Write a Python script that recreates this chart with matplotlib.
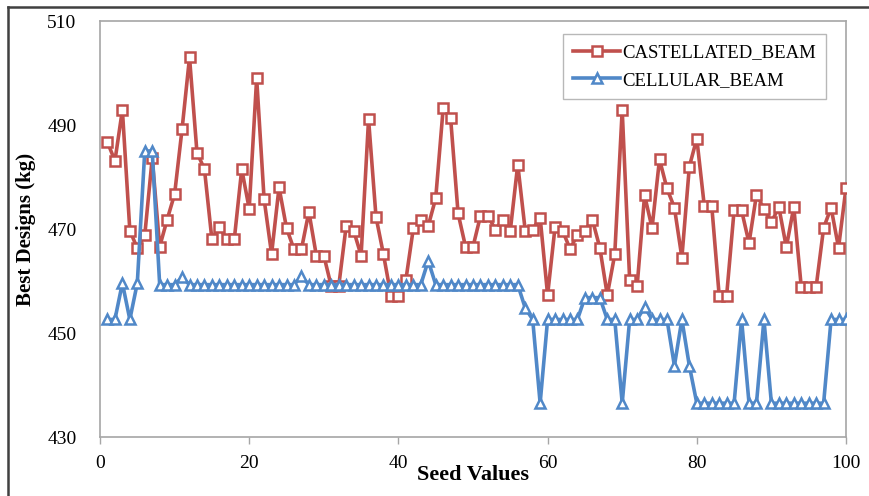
import numpy as np
import matplotlib.pyplot as plt
from matplotlib.lines import Line2D

# seed values 1..100
seeds = list(range(1, 101))

castellated = [
    486.7, 483.1, 492.9, 469.7, 466.3, 468.8, 483.6, 466.6, 471.8, 476.7,
    489.2, 503.0, 484.7, 481.5, 468.0, 470.4, 468.0, 468.0, 481.5, 473.9,
    499.0, 475.7, 465.2, 478.0, 470.2, 466.1, 466.1, 473.3, 464.9, 464.9,
    459.0, 459.0, 470.6, 469.7, 464.9, 491.1, 472.3, 465.1, 457.2, 457.2,
    460.2, 470.1, 471.7, 470.6, 475.9, 493.2, 491.3, 473.0, 466.6, 466.6,
    472.5, 472.5, 469.9, 471.8, 469.7, 482.4, 469.7, 469.9, 472.2, 457.3,
    470.4, 469.7, 466.2, 468.8, 469.7, 471.8, 466.4, 457.3, 465.1, 492.9,
    460.2, 459.0, 476.5, 470.2, 483.4, 477.8, 474.1, 464.5, 482.0, 487.4,
    474.5, 474.5, 457.2, 457.2, 473.6, 473.6, 467.3, 476.6, 473.9, 471.3,
    474.2, 466.5, 474.2, 458.9, 458.9, 458.9, 470.2, 474.1, 466.4, 477.9,
]

cellular = [
    452.6, 452.6, 459.6, 452.6, 459.6, 485.0, 485.0, 459.3, 459.3, 459.3,
    460.7, 459.3, 459.3, 459.3, 459.3, 459.3, 459.3, 459.3, 459.3, 459.3,
    459.3, 459.3, 459.3, 459.3, 459.3, 459.3, 460.9, 459.3, 459.3, 459.3,
    459.3, 459.3, 459.3, 459.3, 459.3, 459.3, 459.3, 459.3, 459.3, 459.3,
    459.3, 459.3, 459.3, 463.9, 459.3, 459.3, 459.3, 459.3, 459.3, 459.3,
    459.3, 459.3, 459.3, 459.3, 459.3, 459.3, 454.8, 452.6, 436.5, 452.6,
    452.6, 452.6, 452.6, 452.6, 456.8, 456.8, 456.8, 452.6, 452.6, 436.5,
    452.6, 452.6, 455.0, 452.6, 452.6, 452.6, 443.7, 452.6, 443.7, 436.5,
    436.5, 436.5, 436.5, 436.5, 436.5, 452.6, 436.5, 436.5, 452.6, 436.5,
    436.5, 436.5, 436.5, 436.5, 436.5, 436.5, 436.5, 452.6, 452.6, 452.6,
]

x_ticks = [0, 20, 40, 60, 80, 100]
y_ticks = [430, 450, 470, 490, 510]

RED = '#C0504D'
BLUE = '#5088C8'
GRID = '#A6A6A6'

plt.rcParams['font.family'] = ['Liberation Serif', 'DejaVu Serif']

fig = plt.figure(figsize=(8.69, 4.96), dpi=100)
ax = fig.add_axes([100 / 869, 1 - 437 / 496, 746 / 869, 416 / 496])

ax.plot(seeds, castellated, color=RED, lw=2.6, marker='s', ms=6.5,
        mfc='white', mec=RED, mew=1.8, label='CASTELLATED_BEAM', zorder=3)
ax.plot(seeds, cellular, color=BLUE, lw=2.6, marker='^', ms=6.8,
        mfc='white', mec=BLUE, mew=1.8, label='CELLULAR_BEAM', zorder=4)

ax.set_xlim(0, 100)
ax.set_ylim(430, 510)
ax.set_xticks(x_ticks)
ax.set_yticks(y_ticks)
ax.tick_params(axis='x', direction='out', length=5, width=1, color=GRID,
               pad=8, labelsize=14)
ax.tick_params(axis='y', length=0, pad=17, labelsize=14)

for sp in ax.spines.values():
    sp.set_color(GRID)
    sp.set_linewidth(1.2)

ax.set_xlabel('Seed Values', fontsize=16, fontweight='bold', labelpad=-5)
ax.set_ylabel('Best Designs (kg)', fontsize=15, fontweight='bold', labelpad=8)

leg = ax.legend(loc='upper left', bbox_to_anchor=(563 / 869, 1 - 34 / 496),
                bbox_transform=fig.transFigure, fontsize=13.5,
                frameon=True, fancybox=False, handlelength=2.5,
                handletextpad=0.1, borderpad=0.55, labelspacing=0.55,
                borderaxespad=0)
leg.get_frame().set_edgecolor(GRID)
leg.get_frame().set_linewidth(1.0)

# outer chart border (top and left edges visible in the crop)
fig.add_artist(Line2D([8 / 869, 8 / 869], [0, 1 - 7 / 496],
                      transform=fig.transFigure, color='#404040', lw=1.8))
fig.add_artist(Line2D([8 / 869, 1], [1 - 7 / 496, 1 - 7 / 496],
                      transform=fig.transFigure, color='#404040', lw=1.8))

fig.savefig('out.png', dpi=100)
